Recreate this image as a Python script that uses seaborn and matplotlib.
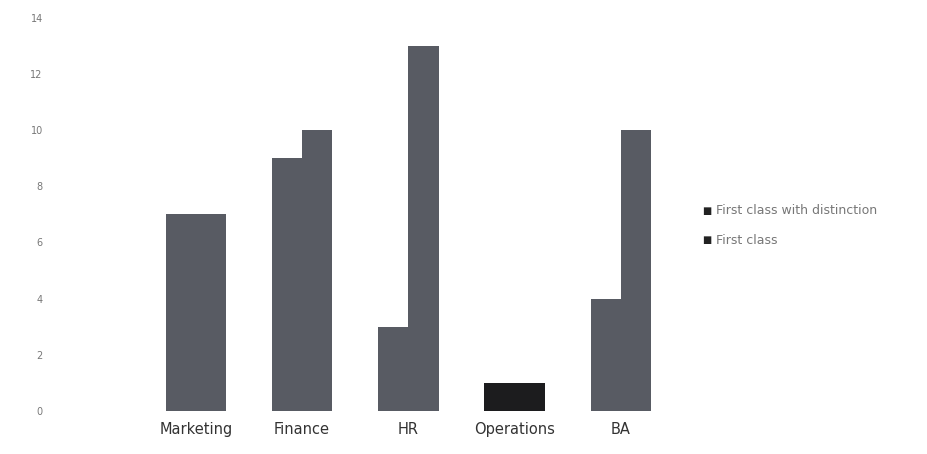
import matplotlib
matplotlib.use("Agg")
import matplotlib.pyplot as plt
import seaborn as sns
import pandas as pd

# Student results by specialisation
departments = ["Marketing", "Finance", "HR", "Operations", "BA"]
distinction = [7, 9, 3, 1, 4]
first_class = [7, 10, 13, 1, 10]
series_names = ["First class with distinction", "First class"]
y_ticks = [0, 2, 4, 6, 8, 10, 12, 14]

df = pd.DataFrame({
    "Department": departments * 2,
    "Count": distinction + first_class,
    "Series": [series_names[0]] * len(departments) + [series_names[1]] * len(departments),
})

sns.set_theme(style="white")
plt.rcParams["font.family"] = ["DejaVu Sans"]

fig = plt.figure(figsize=(9.27, 4.54), dpi=100)
ax = fig.add_axes([0.154, 0.095, 0.573, 0.866])

bar_grey = "#585b63"
sns.barplot(data=df, x="Department", y="Count", hue="Series",
            order=departments, hue_order=series_names,
            palette=[bar_grey, bar_grey], width=0.57, saturation=1,
            edgecolor="none", linewidth=0, ax=ax, legend=False)

# Operations bars are printed in near-black
ops_idx = departments.index("Operations")
for container in ax.containers:
    container.patches[ops_idx].set_facecolor("#1c1c1e")

ax.set_ylim(0, 14)
ax.set_xlim(-0.5, len(departments) - 0.5)
ax.set_yticks(y_ticks)
ax.set_yticklabels([str(t) for t in y_ticks], fontsize=7, color="#777777")
ax.tick_params(axis="y", pad=72, length=0)
ax.tick_params(axis="x", pad=8, length=0, labelsize=10.5, labelcolor="#333333")
ax.set_xlabel("")
ax.set_ylabel("")
for spine in ax.spines.values():
    spine.set_visible(False)

# Legend on the right
for i, name in enumerate(series_names):
    y = 1 - (211 + 29 * i) / 454
    fig.text(707 / 927, y, "\u25a0", fontsize=7, color="#222222",
             ha="center", va="center")
    fig.text(716 / 927, y, name, fontsize=9, color="#777777",
             ha="left", va="center")

fig.savefig("out.png", dpi=100)
